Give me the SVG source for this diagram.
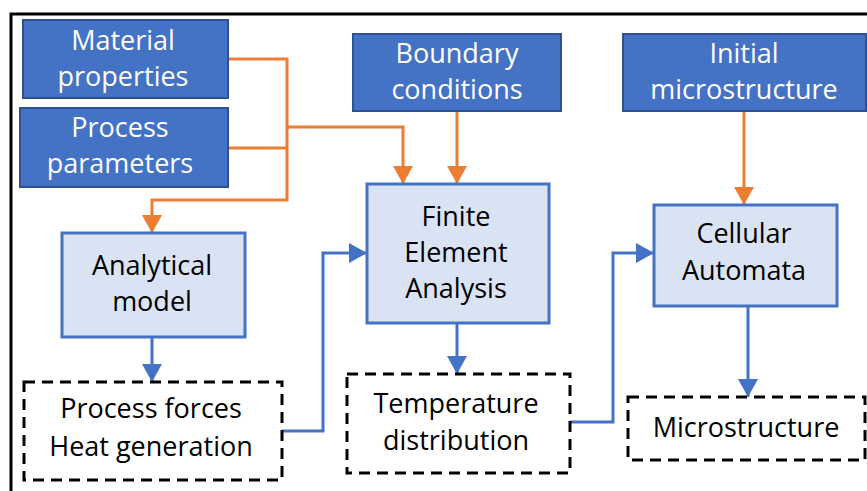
<svg xmlns="http://www.w3.org/2000/svg" width="867" height="491" viewBox="0 0 867 491">
<defs>
<marker id="ao" viewBox="0 0 18 20" refX="18" refY="10" markerWidth="18" markerHeight="20" markerUnits="userSpaceOnUse" orient="auto"><path d="M0,0 L18,10 L0,20 Z" fill="#ed7d31"/></marker>
<marker id="ab" viewBox="0 0 18 20" refX="18" refY="10" markerWidth="18" markerHeight="20" markerUnits="userSpaceOnUse" orient="auto"><path d="M0,0 L18,10 L0,20 Z" fill="#4472c4"/></marker>
</defs>
<style>
.in{fill:#4472c4;stroke:#2f528f;stroke-width:2}
.pr{fill:#dae3f3;stroke:#4472c4;stroke-width:3}
.out{fill:#fff;stroke:#000;stroke-width:3;stroke-dasharray:11 7}
text{font-family:"Open Sans","Noto Sans",sans-serif;font-size:27px;text-anchor:middle}
.w{fill:#fff}
.k{fill:#000}
.co{fill:none;stroke:#ed7d31;stroke-width:3}
.cb{fill:none;stroke:#4472c4;stroke-width:3}
</style>
<rect width="867" height="491" fill="#fff"/>
<path d="M11,491 V14 H867" fill="none" stroke="#000" stroke-width="3"/>
<g id="connectors">
<path class="co" d="M228,59 H287 V200 H152 V233" marker-end="url(#ao)"/>
<path class="co" d="M228,148 H287"/>
<path class="co" d="M287,127 H403 V184" marker-end="url(#ao)"/>
<path class="co" d="M457,111 V184" marker-end="url(#ao)"/>
<path class="co" d="M744,111 V205" marker-end="url(#ao)"/>
<path class="cb" d="M152,337 V382" marker-end="url(#ab)"/>
<path class="cb" d="M457,323 V374" marker-end="url(#ab)"/>
<path class="cb" d="M748,306 V397" marker-end="url(#ab)"/>
<path class="cb" d="M282,431 H323 V253 H367" marker-end="url(#ab)"/>
<path class="cb" d="M570,422 H613 V253 H654" marker-end="url(#ab)"/>
</g>
<g id="material">
<rect class="in" x="23" y="20" width="205" height="78"/>
<text class="w" x="123" y="50">Material</text>
<text class="w" x="123" y="86">properties</text>
</g>
<g id="process">
<rect class="in" x="20" y="108" width="208" height="79"/>
<text class="w" x="120" y="137">Process</text>
<text class="w" x="120" y="173">parameters</text>
</g>
<g id="boundary">
<rect class="in" x="353" y="34" width="208" height="77"/>
<text class="w" x="457" y="63">Boundary</text>
<text class="w" x="457" y="99">conditions</text>
</g>
<g id="initial">
<rect class="in" x="623" y="34" width="243" height="77"/>
<text class="w" x="744" y="63">Initial</text>
<text class="w" x="744" y="99">microstructure</text>
</g>
<g id="analytical">
<rect class="pr" x="62" y="233" width="183" height="104"/>
<text class="k" x="152" y="275">Analytical</text>
<text class="k" x="152" y="311">model</text>
</g>
<g id="fea">
<rect class="pr" x="367" y="184" width="182" height="139"/>
<text class="k" x="456" y="226">Finite</text>
<text class="k" x="456" y="262">Element</text>
<text class="k" x="456" y="298">Analysis</text>
</g>
<g id="ca">
<rect class="pr" x="654" y="205" width="183" height="101"/>
<text class="k" x="744" y="243">Cellular</text>
<text class="k" x="744" y="280">Automata</text>
</g>
<g id="forces">
<rect class="out" x="24" y="382" width="258" height="98"/>
<text class="k" x="151" y="418">Process forces</text>
<text class="k" x="151" y="456">Heat generation</text>
</g>
<g id="temperature">
<rect class="out" x="347" y="374" width="223" height="99"/>
<text class="k" x="456" y="413">Temperature</text>
<text class="k" x="456" y="450">distribution</text>
</g>
<g id="microstructure">
<rect class="out" x="628" y="397" width="237" height="63"/>
<text class="k" x="746" y="437">Microstructure</text>
</g>
</svg>
